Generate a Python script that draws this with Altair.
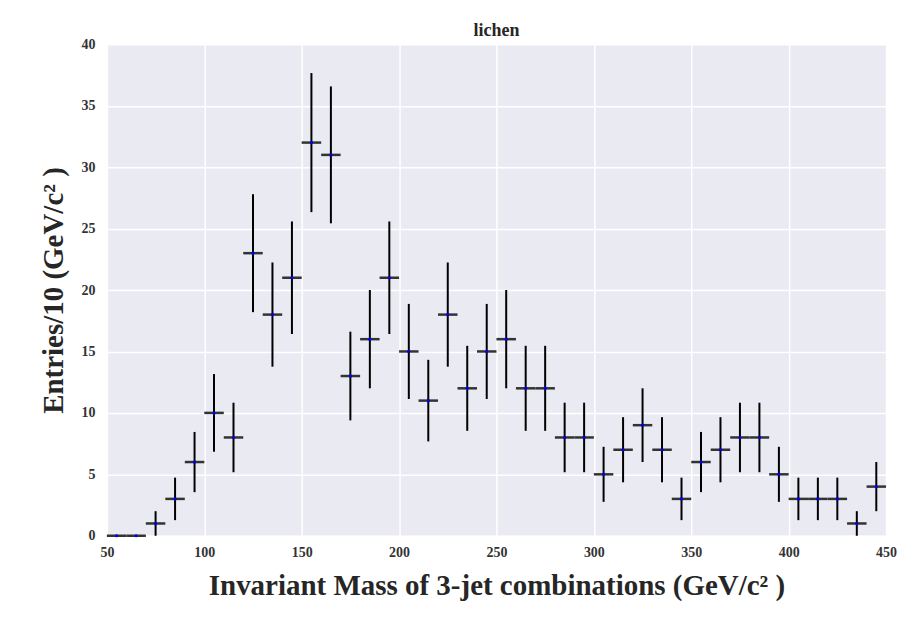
import altair as alt
import pandas as pd

bin_centers = [55, 65, 75, 85, 95, 105, 115, 125, 135, 145, 155, 165, 175, 185, 195,
               205, 215, 225, 235, 245, 255, 265, 275, 285, 295, 305, 315, 325, 335, 345,
               355, 365, 375, 385, 395, 405, 415, 425, 435, 445]
entries = [0, 0, 1, 3, 6, 10, 8, 23, 18, 21, 32, 31, 13, 16, 21,
           15, 11, 18, 12, 15, 16, 12, 12, 8, 8, 5, 7, 9, 7, 3,
           6, 7, 8, 8, 5, 3, 3, 3, 1, 4]
errors = [0, 0, 1.0, 1.73, 2.45, 3.16, 2.83, 4.8, 4.24, 4.58, 5.66, 5.57, 3.61, 4.0, 4.58,
          3.87, 3.32, 4.24, 3.46, 3.87, 4.0, 3.46, 3.46, 2.83, 2.83, 2.24, 2.65, 3.0, 2.65, 1.73,
          2.45, 2.65, 2.83, 2.83, 2.24, 1.73, 1.73, 1.73, 1.0, 2.0]
half_bin = 5

df = pd.DataFrame({"x": bin_centers, "y": entries, "err": errors})
df["xlo"] = df["x"] - half_bin
df["xhi"] = df["x"] + half_bin
df["ylo"] = df["y"] - df["err"]
df["yhi"] = df["y"] + df["err"]

FONT = "Liberation Serif"

xscale = alt.Scale(domain=[50, 450], nice=False, zero=False)
yscale = alt.Scale(domain=[0, 40], nice=False)

xaxis = alt.Axis(values=list(range(50, 451, 50)), title="Invariant Mass of 3-jet combinations (GeV/c² )",
                 grid=True, gridColor="white", gridWidth=1.5, domain=False, ticks=False,
                 labelFlush=False,
                 labelFont=FONT, labelFontWeight="bold", labelFontSize=14, labelColor="#333333",
                 labelPadding=10, titleFont=FONT, titleFontWeight="bold", titleFontSize=29,
                 titleColor="#262626", titlePadding=12)
yaxis = alt.Axis(values=list(range(0, 41, 5)), title="Entries/10 (GeV/c² )",
                 grid=True, gridColor="white", gridWidth=1.5, domain=False, ticks=False,
                 labelFlush=False,
                 labelFont=FONT, labelFontWeight="bold", labelFontSize=14, labelColor="#333333",
                 labelPadding=12, titleFont=FONT, titleFontWeight="bold", titleFontSize=29,
                 titleColor="#262626", titlePadding=12)

base = alt.Chart(df)

hbar = base.mark_rule(color="#333333", strokeWidth=2.5).encode(
    x=alt.X("xlo:Q", scale=xscale, axis=xaxis), x2="xhi:Q",
    y=alt.Y("y:Q", scale=yscale, axis=yaxis))
vbar = base.mark_rule(color="black", strokeWidth=2).encode(
    x=alt.X("x:Q", scale=xscale), y=alt.Y("ylo:Q", scale=yscale), y2="yhi:Q")
pts = base.mark_point(color="blue", filled=True, size=10, opacity=1).encode(
    x=alt.X("x:Q", scale=xscale), y=alt.Y("y:Q", scale=yscale))

chart = alt.layer(hbar, vbar, pts).properties(
    width=780, height=492,
    title=alt.TitleParams("lichen", font=FONT, fontWeight="bold", fontSize=18,
                          color="#262626", offset=-3),
    autosize=alt.AutoSizeParams(type="none"),
    padding={"left": 99, "top": 36, "right": 30, "bottom": 84},
    background="white",
).configure_view(fill="#EAEAF2", stroke=None)

chart.save("out.html", embed_options={"renderer": "svg", "actions": False})
